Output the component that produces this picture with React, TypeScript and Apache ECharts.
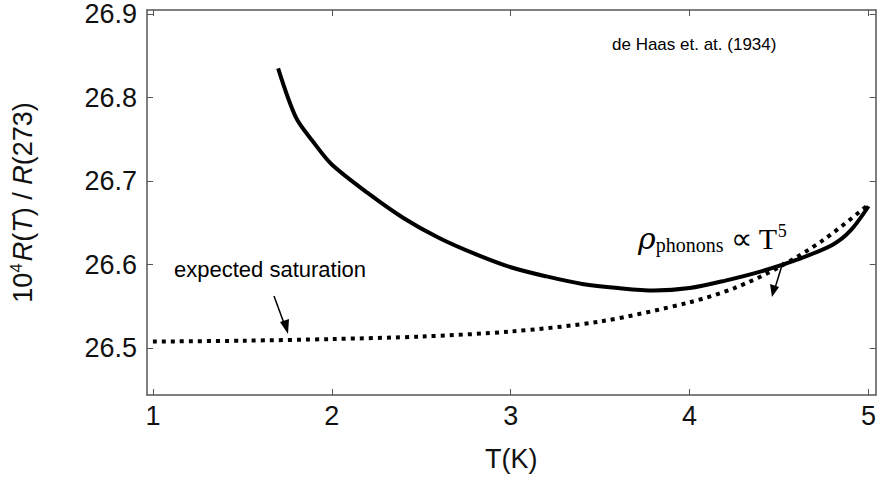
import React, { useEffect, useRef } from "react";
import * as echarts from "echarts";

const measuredT = [1.7, 1.8, 1.9, 2.0, 2.2, 2.4, 2.6, 2.8, 3.0, 3.2, 3.4, 3.6, 3.8, 4.0, 4.2, 4.4, 4.6, 4.8, 4.9, 5.0];
const measuredR = [26.835, 26.776, 26.746, 26.72, 26.686, 26.656, 26.632, 26.613, 26.597, 26.586, 26.577, 26.572, 26.569, 26.572, 26.581, 26.592, 26.606, 26.624, 26.641, 26.67];
const satT = [1.0, 1.5, 2.0, 2.5, 3.0, 3.5, 4.0, 4.25, 4.5, 4.75, 5.0];
const satR = [26.508, 26.509, 26.511, 26.514, 26.52, 26.532, 26.555, 26.572, 26.597, 26.63, 26.672];
const xTicks = [1, 2, 3, 4, 5];
const yTicks = [26.5, 26.6, 26.7, 26.8, 26.9];

export default function App() {
  const ref = useRef<HTMLDivElement>(null);
  useEffect(() => {
    document.body.style.margin = "0";
    const chart = echarts.init(ref.current!, null, { renderer: "svg" });
    const font = "Liberation Sans";
    const axisCommon = {
      type: "value" as const,
      axisLine: { show: true, lineStyle: { color: "#555", width: 1.5 } },
      axisTick: { show: true, inside: true, length: 6, lineStyle: { color: "#555" } },
      splitLine: { show: false },
    };
    const xCommon = { ...axisCommon, min: 0.967, max: 5.04, interval: 1 };
    const yCommon = { ...axisCommon, min: 26.444, max: 26.905 };
    chart.setOption({
      animation: false,
      grid: { left: 143, right: 3, top: 10, bottom: 86 },
      xAxis: [
        {
          ...xCommon,
          axisLabel: {
            fontFamily: font, fontSize: 27, color: "#111", margin: 7,
            customValues: xTicks, formatter: (v: number) => String(v),
          },
          axisTick: { ...axisCommon.axisTick, customValues: xTicks },
          name: "T(K)", nameLocation: "middle", nameGap: 50,
          nameTextStyle: { fontFamily: font, fontSize: 27, color: "#111" },
        },
        { ...xCommon, position: "top", axisLabel: { show: false }, axisTick: { ...axisCommon.axisTick, customValues: xTicks } },
      ],
      yAxis: [
        {
          ...yCommon,
          axisLabel: {
            fontFamily: font, fontSize: 27, color: "#111", margin: 10,
            customValues: yTicks, formatter: (v: number) => v.toFixed(1),
          },
          axisTick: { ...axisCommon.axisTick, customValues: yTicks },
          name: "{n|10}{s|4}{i|R}{n|(}{i|T}{n|) / }{i|R}{n|(273)}",
          nameLocation: "middle", nameGap: 110, nameRotate: 90,
          nameTextStyle: {
            rich: {
              n: { fontFamily: font, fontSize: 27, color: "#111" },
              i: { fontFamily: font, fontSize: 27, fontStyle: "italic", color: "#111" },
              s: { fontFamily: font, fontSize: 17, color: "#111", verticalAlign: "top", padding: [0, 2, 12, 0] },
            },
          },
        },
        { ...yCommon, position: "right", axisLabel: { show: false }, axisTick: { ...axisCommon.axisTick, customValues: yTicks } },
      ],
      series: [
        {
          type: "line", data: measuredT.map((t, i) => [t, measuredR[i]]), smooth: 0.3,
          showSymbol: false, lineStyle: { color: "#000", width: 4 },
        },
        {
          type: "line", data: satT.map((t, i) => [t, satR[i]]), smooth: 0.3,
          showSymbol: false, lineStyle: { color: "#000", width: 4, type: [4, 5] },
        },
      ],
      graphic: [
        { type: "text", left: 612, top: 36, style: { text: "de Haas et. at. (1934)", font: `17px "${font}"`, fill: "#000" } },
        { type: "text", left: 174, top: 258, style: { text: "expected saturation", font: `22px "${font}"`, fill: "#000" } },
        { type: "line", shape: { x1: 274, y1: 296, x2: 285, y2: 326 }, style: { stroke: "#000", lineWidth: 1.5 } },
        { type: "polygon", shape: { points: [[288, 334], [280, 322], [289, 319]] }, style: { fill: "#000" } },
        {
          type: "text", left: 638, top: 222,
          style: {
            text: "{i|ρ}{sub|phonons}{n| ∝ T}{sup|5}",
            rich: {
              i: { fontFamily: "DejaVu Serif", fontStyle: "italic", fontSize: 30, fill: "#000" },
              sub: { fontFamily: "Liberation Serif", fontSize: 20, fill: "#000", padding: [14, 0, 0, 0] },
              n: { fontFamily: "Liberation Serif", fontSize: 30, fill: "#000" },
              sup: { fontFamily: "Liberation Serif", fontSize: 18, fill: "#000", padding: [0, 0, 14, 0] },
            },
          },
        },
        { type: "line", shape: { x1: 783, y1: 262, x2: 775, y2: 288 }, style: { stroke: "#000", lineWidth: 1.5 } },
        { type: "polygon", shape: { points: [[772, 297], [770, 284], [779, 287]] }, style: { fill: "#000" } },
      ],
    });
    return () => chart.dispose();
  }, []);
  return <div ref={ref} style={{ width: 879, height: 481 }} />;
}
